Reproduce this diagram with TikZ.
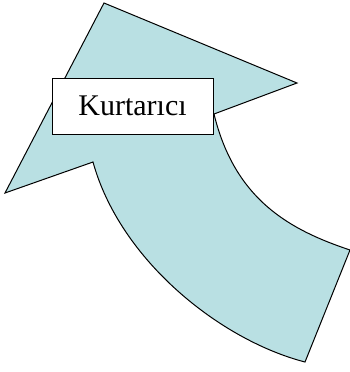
\documentclass[tikz,border=0pt]{standalone}
\usepackage{fontspec}
\setmainfont{Liberation Serif}
\usetikzlibrary{positioning}

\begin{document}
\begin{tikzpicture}[x=1pt, y=-1pt]
    % Define colours
    \definecolor{borderColour}{HTML}{000000}
    \definecolor{arrowColour}{HTML}{B9E0E3}

    % Fix the page size
    \useasboundingbox (0,0) rectangle (350,372);

  % Corners of the curved arrow
  \coordinate (tip) at (104,3);
  \coordinate (rightBarb) at (297,83);
  \coordinate (rightInner) at (214,114);
  \coordinate (rightEnd) at (350,250);
  \coordinate (leftEnd) at (305,362);
  \coordinate (leftInner) at (93,162);
  \coordinate (leftBarb) at (5,193);

  % Draw the arrow
  \filldraw[fill=arrowColour, draw=borderColour, line width=1pt, line join=miter]
    (tip) -- (rightBarb) -- (rightInner)
    .. controls (235,200) and (290,230) .. (rightEnd)
    -- (leftEnd)
    .. controls (220,340) and (120,260) .. (leftInner)
    -- (leftBarb) -- cycle;

  % Label box on top of the arrow
  \node[draw=borderColour, fill=white, line width=1pt, minimum width=161pt, minimum height=56pt,
        inner sep=0pt, font=\fontsize{30}{36}\selectfont] (label) at (132.5,106) {Kurtarıcı};

\end{tikzpicture}
\end{document}
